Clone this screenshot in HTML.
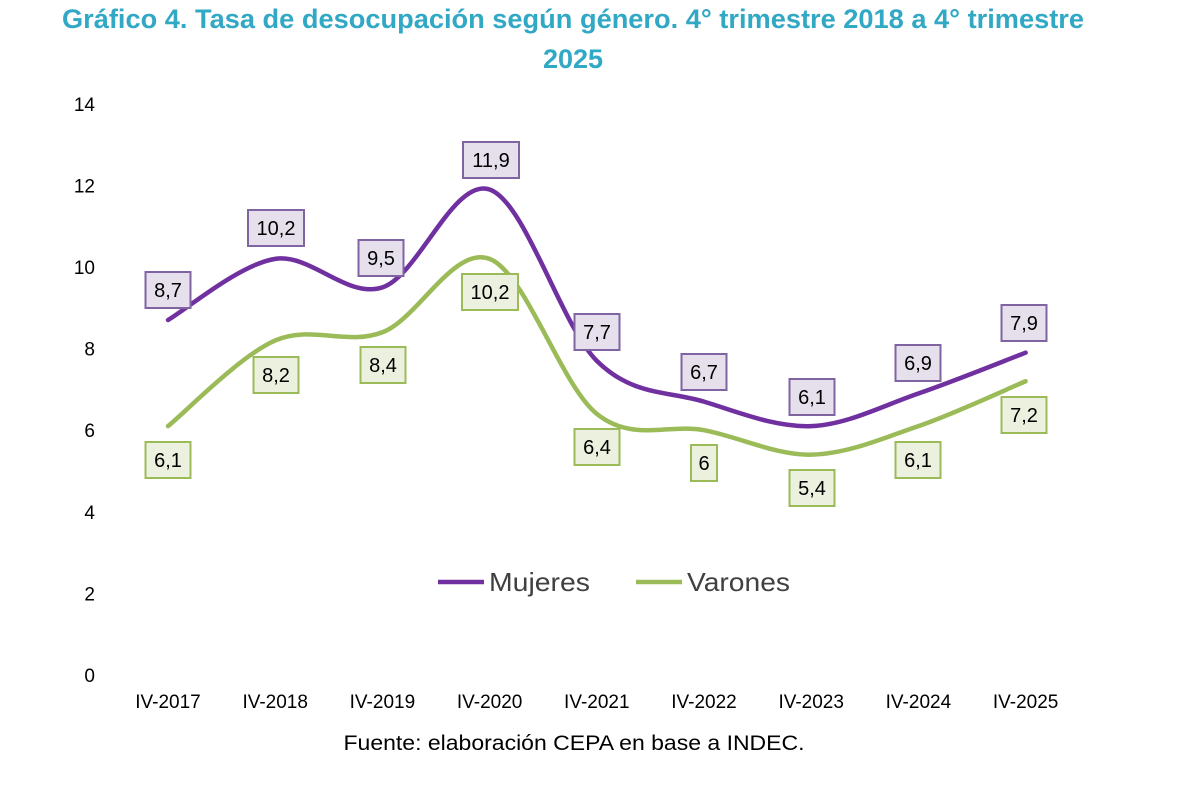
<!DOCTYPE html>
<html><head><meta charset="utf-8"><style>
body{margin:0;background:#fff;width:1181px;height:789px;overflow:hidden;font-family:"Liberation Sans",sans-serif}
</style></head><body>
<svg width="1181" height="789" xmlns="http://www.w3.org/2000/svg" font-family="Liberation Sans, sans-serif">
<text x="573" y="28" text-anchor="middle" font-size="27" font-weight="bold" fill="#31a8c4" textLength="1022" lengthAdjust="spacingAndGlyphs">Gráfico 4. Tasa de desocupación según género. 4° trimestre 2018 a 4° trimestre</text>
<text x="573" y="68" text-anchor="middle" font-size="27" font-weight="bold" fill="#31a8c4">2025</text>
<g font-size="19" fill="#000" text-anchor="end" id="yax"></g>
<g font-size="19" fill="#000" text-anchor="middle" id="xax"></g>
<path id="pm" fill="none" stroke="#7030a0" stroke-width="4.5" stroke-linecap="round"/>
<path id="pv" fill="none" stroke="#9bbb59" stroke-width="4.5" stroke-linecap="round"/>
<g id="lab" font-size="20" text-anchor="middle"></g>
<line x1="438" y1="582" x2="484" y2="582" stroke="#7030a0" stroke-width="4.5"/>
<text x="489" y="591" font-size="26" fill="#404040" textLength="101" lengthAdjust="spacingAndGlyphs">Mujeres</text>
<line x1="636" y1="582" x2="682" y2="582" stroke="#9bbb59" stroke-width="4.5"/>
<text x="687" y="591" font-size="26" fill="#404040" textLength="103" lengthAdjust="spacingAndGlyphs">Varones</text>
<text x="574" y="750" text-anchor="middle" font-size="21" fill="#000" textLength="461" lengthAdjust="spacingAndGlyphs">Fuente: elaboración CEPA en base a INDEC.</text>
</svg>
<script>
var NS="http://www.w3.org/2000/svg";
function el(t,a,p,txt){var e=document.createElementNS(NS,t);for(var k in a)e.setAttribute(k,a[k]);if(txt!=null)e.textContent=txt;p.appendChild(e);return e;}
var Y=function(v){return 675-v*40.8;};
var xs=[],yrs=["IV-2017","IV-2018","IV-2019","IV-2020","IV-2021","IV-2022","IV-2023","IV-2024","IV-2025"];
for(var i=0;i<9;i++)xs.push(168+i*107.2);
var ya=document.getElementById("yax");
for(var v=0;v<=14;v+=2)el("text",{x:95,y:Y(v)+7},ya,String(v));
var xa=document.getElementById("xax");
yrs.forEach(function(s,i){el("text",{x:xs[i],y:708},xa,s);});
var m=[8.7,10.2,9.5,11.9,7.7,6.7,6.1,6.9,7.9],w=[6.1,8.2,8.4,10.2,6.4,6,5.4,6.1,7.2];
function path(d){var p=d.map(function(v,i){return[xs[i],Y(v)];});var s="M"+p[0][0]+","+p[0][1];
for(var i=0;i<p.length-1;i++){var p0=p[Math.max(i-1,0)],p1=p[i],p2=p[i+1],p3=p[Math.min(i+2,p.length-1)];
var c1=[p1[0]+(p2[0]-p0[0])/6,p1[1]+(p2[1]-p0[1])/6],c2=[p2[0]-(p3[0]-p1[0])/6,p2[1]-(p3[1]-p1[1])/6];
s+=" C"+c1+" "+c2+" "+p2;}return s;}
document.getElementById("pm").setAttribute("d",path(m));
document.getElementById("pv").setAttribute("d",path(w));
var lab=document.getElementById("lab");
var ml=[[168,290],[276,228],[381,258],[491,160],[597,332],[704,372],[812,397],[918,363],[1024,323]];
var vl=[[168,460],[276,375],[383,365],[490,292],[597,447],[704,463],[812,488],[918,460],[1024,415]];
function box(c,txt,stroke,fill){var wd=txt.length>3?56:(txt.length==1?26:45);
el("rect",{x:c[0]-wd/2,y:c[1]-18,width:wd,height:36,fill:fill,stroke:stroke,"stroke-width":2},lab);
el("text",{x:c[0],y:c[1]+7,fill:"#000"},lab,txt);}
m.forEach(function(v,i){box(ml[i],String(v).replace(".",","),"#8064a2","#e6e0ec");});
w.forEach(function(v,i){box(vl[i],String(v).replace(".",","),"#9bbb59","#ebf1de");});
</script>
</body></html>
